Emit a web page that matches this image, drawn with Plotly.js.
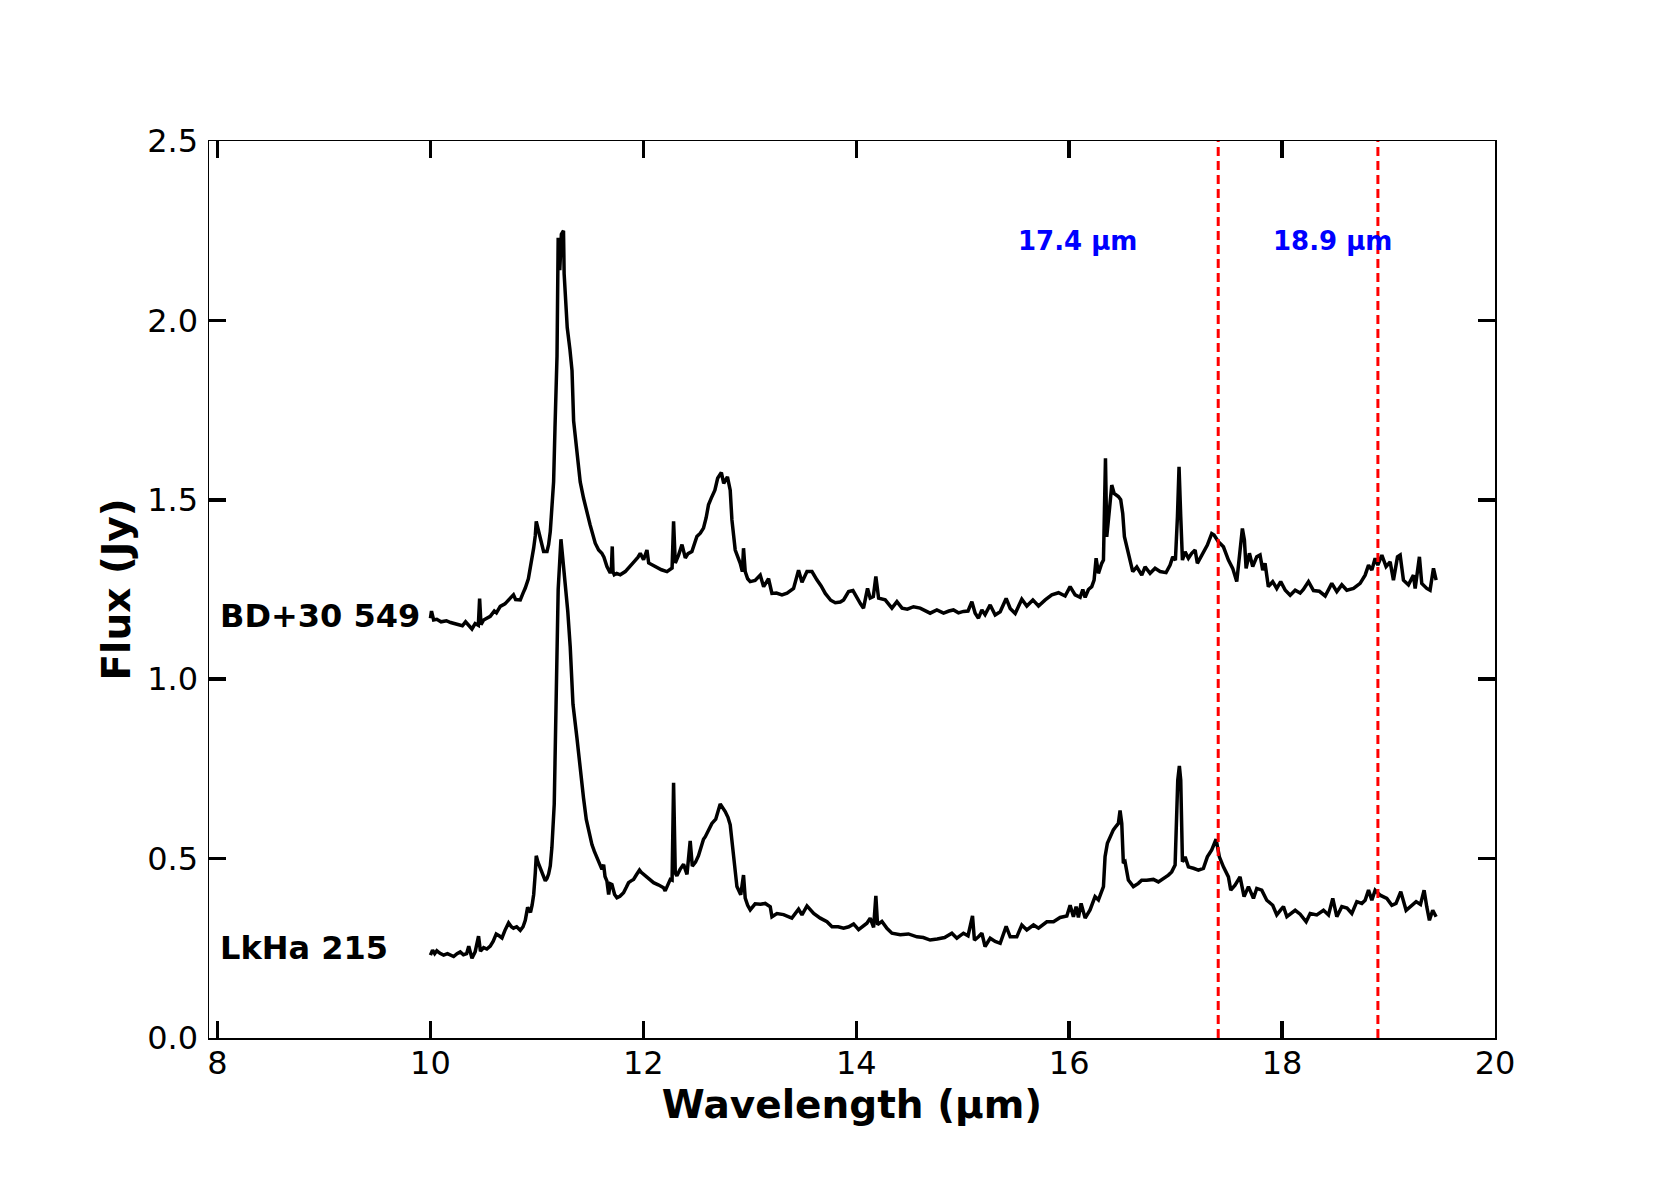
<!DOCTYPE html>
<html>
<head>
<meta charset="utf-8">
<script src="https://cdn.plot.ly/plotly-3.0.1.min.js"></script>
<style>html,body{margin:0;padding:0;background:#fff;}#chart{width:1661px;height:1186px;}</style>
</head>
<body>
<div id="chart"></div>
<script>
// BD+30 549 spectrum (wavelength in µm, flux in Jy)
const wlBD = [10.00,10.01,10.03,10.06,10.10,10.15,10.19,10.24,10.30,10.33,10.36,10.39,10.42,10.45,10.462,10.475,10.50,10.53,10.562,10.60,10.62,10.656,10.70,10.75,10.78,10.80,10.844,10.87,10.891,10.92,10.938,10.955,10.97,10.985,10.994,11.01,11.032,11.05,11.063,11.095,11.11,11.126,11.14,11.157,11.17,11.189,11.20,11.215,11.23,11.25,11.256,11.275,11.285,11.31,11.33,11.345,11.37,11.39,11.407,11.438,11.47,11.50,11.548,11.58,11.61,11.63,11.658,11.689,11.70,11.708,11.715,11.727,11.75,11.783,11.83,11.877,11.92,11.95,11.971,12.002,12.02,12.034,12.05,12.09,12.128,12.17,12.222,12.25,12.27,12.284,12.295,12.30,12.33,12.363,12.394,12.42,12.456,12.48,12.503,12.535,12.565,12.59,12.612,12.637,12.672,12.698,12.733,12.755,12.79,12.816,12.832,12.863,12.91,12.93,12.941,12.957,12.98,13.004,13.05,13.098,13.13,13.176,13.208,13.25,13.302,13.35,13.411,13.458,13.49,13.537,13.584,13.63,13.67,13.709,13.76,13.803,13.85,13.881,13.928,13.969,14.006,14.04,14.068,14.106,14.131,14.16,14.184,14.21,14.272,14.335,14.382,14.43,14.48,14.538,14.6,14.65,14.694,14.757,14.82,14.87,14.913,14.96,15.007,15.05,15.086,15.117,15.148,15.18,15.21,15.258,15.305,15.352,15.408,15.446,15.493,15.555,15.602,15.659,15.712,15.775,15.837,15.9,15.962,16.009,16.056,16.103,16.128,16.15,16.181,16.212,16.234,16.253,16.275,16.306,16.322,16.341,16.353,16.378,16.40,16.422,16.462,16.484,16.503,16.519,16.541,16.572,16.597,16.635,16.682,16.713,16.76,16.807,16.854,16.91,16.948,16.973,16.998,17.017,17.032,17.048,17.064,17.089,17.12,17.151,17.183,17.204,17.236,17.261,17.298,17.339,17.361,17.402,17.449,17.496,17.536,17.574,17.605,17.627,17.646,17.662,17.693,17.724,17.762,17.793,17.818,17.84,17.871,17.912,17.95,17.987,18.03,18.076,18.123,18.17,18.20,18.248,18.295,18.35,18.405,18.467,18.514,18.561,18.608,18.671,18.733,18.78,18.812,18.843,18.874,18.899,18.937,18.977,19.015,19.046,19.084,19.109,19.14,19.187,19.234,19.25,19.29,19.312,19.359,19.39,19.422,19.447];
const fluxBD = [1.17,1.19,1.165,1.167,1.16,1.163,1.158,1.155,1.149,1.16,1.15,1.14,1.155,1.15,1.225,1.152,1.165,1.17,1.175,1.19,1.185,1.203,1.21,1.226,1.235,1.222,1.221,1.24,1.254,1.28,1.31,1.33,1.366,1.40,1.44,1.42,1.393,1.37,1.356,1.356,1.375,1.412,1.47,1.55,1.70,1.90,2.23,2.14,2.24,2.25,2.13,2.02,1.98,1.92,1.86,1.72,1.65,1.60,1.55,1.505,1.465,1.43,1.379,1.36,1.351,1.34,1.314,1.296,1.31,1.37,1.30,1.291,1.295,1.291,1.30,1.314,1.33,1.34,1.351,1.333,1.345,1.36,1.324,1.318,1.31,1.305,1.30,1.305,1.31,1.44,1.325,1.324,1.345,1.375,1.338,1.35,1.356,1.38,1.398,1.407,1.421,1.45,1.486,1.504,1.527,1.56,1.576,1.546,1.564,1.527,1.444,1.36,1.323,1.30,1.365,1.30,1.28,1.272,1.275,1.29,1.258,1.28,1.239,1.24,1.235,1.24,1.253,1.304,1.27,1.30,1.30,1.277,1.26,1.239,1.22,1.213,1.215,1.221,1.244,1.247,1.226,1.21,1.198,1.253,1.226,1.23,1.286,1.226,1.221,1.198,1.216,1.198,1.195,1.202,1.198,1.19,1.184,1.193,1.184,1.19,1.193,1.185,1.189,1.19,1.216,1.184,1.17,1.193,1.18,1.207,1.179,1.188,1.225,1.197,1.183,1.223,1.204,1.221,1.204,1.221,1.235,1.241,1.232,1.258,1.235,1.228,1.25,1.228,1.25,1.258,1.276,1.337,1.295,1.323,1.332,1.616,1.397,1.472,1.541,1.518,1.509,1.50,1.462,1.397,1.369,1.332,1.30,1.313,1.29,1.313,1.295,1.309,1.30,1.297,1.318,1.341,1.332,1.453,1.592,1.453,1.332,1.355,1.337,1.351,1.36,1.323,1.341,1.355,1.374,1.406,1.402,1.383,1.369,1.332,1.309,1.272,1.36,1.42,1.388,1.309,1.351,1.314,1.341,1.346,1.304,1.323,1.258,1.272,1.253,1.272,1.248,1.234,1.248,1.24,1.25,1.272,1.247,1.245,1.232,1.267,1.244,1.263,1.248,1.253,1.267,1.29,1.318,1.304,1.337,1.318,1.346,1.314,1.327,1.276,1.341,1.346,1.276,1.263,1.29,1.253,1.341,1.267,1.253,1.248,1.309,1.276];

// LkHa 215 spectrum
const wlLK = [10.00,10.02,10.04,10.06,10.09,10.124,10.16,10.20,10.218,10.25,10.28,10.31,10.34,10.36,10.375,10.39,10.42,10.452,10.47,10.50,10.53,10.562,10.59,10.618,10.645,10.672,10.70,10.734,10.76,10.78,10.81,10.844,10.87,10.891,10.913,10.94,10.955,10.97,10.985,10.994,11.01,11.032,11.055,11.079,11.095,11.11,11.126,11.141,11.163,11.179,11.189,11.20,11.226,11.245,11.266,11.29,11.313,11.339,11.376,11.407,11.438,11.464,11.49,11.517,11.54,11.564,11.59,11.611,11.627,11.64,11.658,11.674,11.69,11.705,11.73,11.752,11.78,11.814,11.84,11.861,11.885,11.908,11.935,11.964,11.98,12.002,12.05,12.096,12.14,12.19,12.205,12.225,12.253,12.27,12.284,12.30,12.315,12.345,12.378,12.41,12.44,12.46,12.49,12.518,12.535,12.565,12.582,12.622,12.644,12.68,12.722,12.769,12.795,12.816,12.847,12.879,12.915,12.941,12.957,12.98,13.004,13.05,13.10,13.145,13.192,13.208,13.255,13.317,13.395,13.458,13.49,13.537,13.60,13.662,13.725,13.772,13.83,13.881,13.93,13.975,14.022,14.06,14.10,14.131,14.163,14.184,14.20,14.241,14.29,14.335,14.413,14.49,14.57,14.63,14.694,14.76,14.83,14.898,14.945,15.007,15.05,15.092,15.11,15.148,15.18,15.21,15.258,15.305,15.352,15.408,15.446,15.508,15.555,15.602,15.665,15.712,15.79,15.853,15.915,15.978,16.009,16.04,16.065,16.087,16.112,16.15,16.196,16.243,16.275,16.322,16.337,16.359,16.384,16.415,16.44,16.462,16.478,16.494,16.509,16.525,16.556,16.603,16.65,16.681,16.728,16.791,16.838,16.885,16.932,16.963,16.995,17.02,17.035,17.048,17.064,17.089,17.12,17.167,17.214,17.261,17.298,17.339,17.38,17.411,17.449,17.496,17.518,17.558,17.605,17.643,17.684,17.731,17.762,17.809,17.856,17.912,17.95,17.987,18.013,18.045,18.08,18.123,18.17,18.226,18.264,18.326,18.389,18.436,18.476,18.514,18.561,18.61,18.655,18.702,18.749,18.78,18.812,18.843,18.874,18.921,18.984,19.031,19.07,19.115,19.165,19.218,19.259,19.30,19.334,19.359,19.384,19.415,19.447];
const fluxLK = [0.231,0.245,0.235,0.243,0.236,0.231,0.235,0.229,0.227,0.235,0.24,0.232,0.235,0.256,0.235,0.222,0.24,0.284,0.242,0.252,0.248,0.256,0.27,0.29,0.285,0.279,0.30,0.321,0.31,0.306,0.31,0.30,0.31,0.328,0.364,0.35,0.37,0.40,0.46,0.508,0.49,0.475,0.455,0.438,0.445,0.457,0.48,0.531,0.652,0.93,1.091,1.25,1.39,1.33,1.286,1.19,1.091,0.93,0.837,0.743,0.669,0.609,0.57,0.539,0.52,0.502,0.485,0.47,0.483,0.45,0.437,0.40,0.43,0.428,0.40,0.391,0.395,0.405,0.42,0.433,0.438,0.442,0.455,0.468,0.462,0.456,0.445,0.433,0.427,0.419,0.41,0.425,0.442,0.44,0.711,0.46,0.452,0.47,0.484,0.456,0.549,0.479,0.49,0.508,0.524,0.554,0.561,0.586,0.598,0.61,0.652,0.631,0.615,0.594,0.515,0.422,0.399,0.454,0.39,0.37,0.357,0.374,0.373,0.375,0.366,0.338,0.347,0.344,0.334,0.359,0.343,0.368,0.347,0.334,0.324,0.31,0.31,0.306,0.31,0.318,0.302,0.31,0.32,0.334,0.308,0.396,0.316,0.325,0.305,0.292,0.288,0.29,0.282,0.28,0.273,0.276,0.28,0.292,0.278,0.292,0.285,0.34,0.273,0.282,0.292,0.255,0.278,0.269,0.264,0.311,0.282,0.282,0.315,0.301,0.315,0.306,0.324,0.324,0.336,0.34,0.37,0.338,0.366,0.336,0.375,0.334,0.357,0.394,0.385,0.422,0.505,0.543,0.561,0.58,0.59,0.598,0.634,0.598,0.487,0.491,0.44,0.422,0.431,0.44,0.44,0.442,0.435,0.444,0.454,0.463,0.482,0.719,0.758,0.719,0.491,0.505,0.477,0.473,0.468,0.473,0.505,0.524,0.554,0.505,0.477,0.449,0.412,0.426,0.449,0.394,0.422,0.389,0.417,0.412,0.384,0.37,0.343,0.357,0.366,0.338,0.345,0.356,0.345,0.324,0.347,0.343,0.356,0.343,0.389,0.338,0.366,0.362,0.347,0.38,0.375,0.384,0.412,0.384,0.412,0.398,0.389,0.37,0.375,0.408,0.356,0.37,0.38,0.372,0.412,0.366,0.328,0.356,0.338];

// Annotations / markers
const seriesNames = ["BD+30 549", "LkHa 215"];
const seriesLabelX = [8.0, 8.0];
const seriesLabelY = [1.175, 0.25];
const featureWl = [17.4, 18.9];
const featureLabels = ["17.4 µm", "18.9 µm"];
const featureLabelX = [15.5, 17.9];
const featureLabelY = [2.22, 2.22];
const xTicks = [8, 10, 12, 14, 16, 18, 20];
const yTicks = [0.0, 0.5, 1.0, 1.5, 2.0, 2.5];

const FONT = "DejaVu Sans, Verdana, sans-serif";

const traces = [
  {x: wlBD, y: fluxBD, type: "scatter", mode: "lines", name: seriesNames[0],
   line: {color: "#000000", width: 3.5}, hoverinfo: "x+y"},
  {x: wlLK, y: fluxLK, type: "scatter", mode: "lines", name: seriesNames[1],
   line: {color: "#000000", width: 3.5}, hoverinfo: "x+y"}
];

const shapes = featureWl.map(w => ({
  type: "line", xref: "x", yref: "paper", x0: w, x1: w, y0: 0, y1: 1,
  line: {color: "#ff0000", width: 3, dash: "9px,5px"}, layer: "above"
}));

const annotations = [];
seriesNames.forEach((n, i) => annotations.push({
  x: seriesLabelX[i], y: seriesLabelY[i], xref: "x", yref: "y", text: "<b>" + n + "</b>",
  showarrow: false, xanchor: "left", yanchor: "middle",
  font: {family: FONT, size: 32, color: "#000000"}
}));
featureLabels.forEach((t, i) => annotations.push({
  x: featureLabelX[i], y: featureLabelY[i], xref: "x", yref: "y", text: "<b>" + t + "</b>",
  showarrow: false, xanchor: "left", yanchor: "middle",
  font: {family: FONT, size: 26, color: "#0000ff"}
}));

const axisCommon = {
  showline: true, linecolor: "#000000", linewidth: 1.5, mirror: "ticks",
  ticks: "inside", ticklen: 17, tickwidth: 3.5, tickcolor: "#000000",
  showgrid: false, zeroline: false,
  tickfont: {family: FONT, size: 32, color: "#000000"}
};

const layout = {
  width: 1661, height: 1186,
  paper_bgcolor: "#ffffff", plot_bgcolor: "#ffffff",
  margin: {l: 209, r: 166, t: 141, b: 148},
  showlegend: false,
  font: {family: FONT, color: "#000000"},
  xaxis: Object.assign({}, axisCommon, {
    range: [7.92, 20], tickvals: xTicks, ticktext: xTicks.map(String),
    ticklabelstandoff: -4,
    title: {text: "<b>Wavelength (µm)</b>", font: {family: FONT, size: 39, color: "#000000"}, standoff: 6}
  }),
  yaxis: Object.assign({}, axisCommon, {
    range: [0, 2.5], tickvals: yTicks, ticktext: yTicks.map(v => v.toFixed(1)),
    ticklabelstandoff: 3,
    title: {text: "<b>Flux (Jy)</b>", font: {family: FONT, size: 39, color: "#000000"}, standoff: 4}
  }),
  shapes: shapes,
  annotations: annotations
};

Plotly.newPlot("chart", traces, layout, {displayModeBar: false, staticPlot: true});
</script>
</body>
</html>
